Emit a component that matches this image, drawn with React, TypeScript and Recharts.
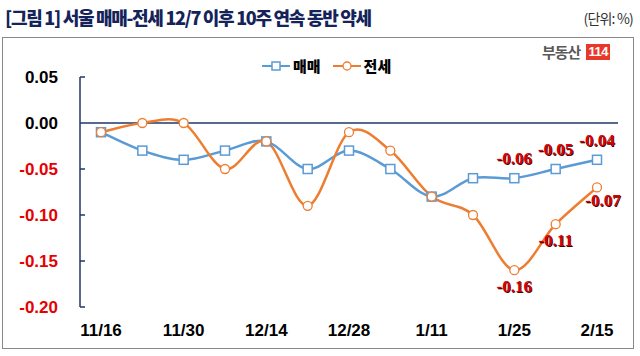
import React from 'react';
import { LineChart, Line, XAxis, YAxis, ReferenceLine, LabelList } from 'recharts';

const categories = ['11/16', '11/23', '11/30', '12/7', '12/14', '12/21', '12/28', '1/4', '1/11', '1/18', '1/25', '2/8', '2/15'];
const maemae = [-0.01, -0.03, -0.04, -0.03, -0.02, -0.05, -0.03, -0.05, -0.08, -0.06, -0.06, -0.05, -0.04];
const jeonse = [-0.01, 0.0, 0.0, -0.05, -0.02, -0.09, -0.01, -0.03, -0.08, -0.1, -0.16, -0.11, -0.07];
const yTicks = [0.05, 0, -0.05, -0.1, -0.15, -0.2];
const xTickLabels = ['11/16', '11/30', '12/14', '12/28', '1/11', '1/25', '2/15'];
const seriesNames = ['매매', '전세'];
const labeledMaemae = [10, 11, 12];
const labeledJeonse = [10, 11, 12];

const data = categories.map((c, i) => ({ date: c, maemae: maemae[i], jeonse: jeonse[i] }));

const BLUE = '#5b9bd5';
const ORANGE = '#ed7d31';
const NAVY = '#1f3864';

// Excel-like smoothing (Catmull-Rom)
const smoothCurve: any = (context: any) => {
  let pts: number[][] = [];
  return {
    areaStart() {},
    areaEnd() {},
    lineStart() { pts = []; },
    point(x: number, y: number) { pts.push([+x, +y]); },
    lineEnd() {
      if (!pts.length) return;
      context.moveTo(pts[0][0], pts[0][1]);
      for (let i = 0; i < pts.length - 1; i++) {
        const p0 = pts[i - 1] || pts[i];
        const p1 = pts[i];
        const p2 = pts[i + 1];
        const p3 = pts[i + 2] || p2;
        const c1x = p1[0] + (p2[0] - p0[0]) / 6;
        const c1y = p1[1] + (p2[1] - p0[1]) / 6;
        const c2x = p2[0] - (p3[0] - p1[0]) / 6;
        const c2y = p2[1] - (p3[1] - p1[1]) / 6;
        context.bezierCurveTo(c1x, c1y, c2x, c2y, p2[0], p2[1]);
      }
    },
  };
};

const SquareDot = (props: any) => {
  const { cx, cy } = props;
  if (cx == null || cy == null) return null;
  return <rect x={cx - 4.5} y={cy - 4.5} width={9} height={9} fill="#fff" stroke={BLUE} strokeWidth={1.5} />;
};
const CircleDot = (props: any) => {
  const { cx, cy } = props;
  if (cx == null || cy == null) return null;
  return <circle cx={cx} cy={cy} r={4.5} fill="#fff" stroke={ORANGE} strokeWidth={1.3} />;
};

const labelText = (x: number, y: number, v: number) => (
  <g>
    <text x={x + 0.8} y={y + 0.8} textAnchor="middle" dy="0.35em" fill="#3a0000" fontFamily="'Liberation Serif', serif" fontWeight="bold" fontSize={17}>{v.toFixed(2)}</text>
    <text x={x} y={y} textAnchor="middle" dy="0.35em" fill="#d80000" fontFamily="'Liberation Serif', serif" fontWeight="bold" fontSize={17}>{v.toFixed(2)}</text>
  </g>
);

const MaemaeLabel = (props: any) => {
  const { x, y, value, index } = props;
  if (!labeledMaemae.includes(index)) return null;
  return labelText(x, y - 20, value);
};
const JeonseLabel = (props: any) => {
  const { x, y, value, index } = props;
  if (!labeledJeonse.includes(index)) return null;
  if (index === categories.length - 1) return labelText(x + 6, y + 13, value);
  return labelText(x, y + 16, value);
};

const YTick = (props: any) => {
  const { x, y, payload } = props;
  const v = payload.value;
  const txt = Math.abs(v) < 1e-9 ? '0.00' : v.toFixed(2);
  return (
    <g>
      <text x={x} y={y} textAnchor="end" dy="0.36em" fill={v < -1e-9 ? '#e60000' : '#000'} fontFamily="'Liberation Sans', Arial, sans-serif" fontWeight="bold" fontSize={17}>{txt}</text>
      {Math.abs(v) > 1e-9 && <line x1={x + 22} x2={x + 27} y1={y} y2={y} stroke={NAVY} strokeWidth={1.5} />}
    </g>
  );
};

export default function App() {
  return (
    <div style={{ position: 'absolute', left: 0, top: 0, width: 640, height: 356, background: '#fff', overflow: 'hidden' }}>
      <div style={{ position: 'absolute', left: 5, top: 4, fontFamily: "'Noto Sans CJK KR', sans-serif", fontWeight: 900, fontSize: 18, letterSpacing: -1.3, color: '#14235a', whiteSpace: 'nowrap', lineHeight: '26px' }}>
        [그림 1] 서울 매매-전세 12/7 이후 10주 연속 동반 약세
      </div>
      <div style={{ position: 'absolute', right: 7, top: 8, fontFamily: "'Noto Sans CJK KR', sans-serif", fontSize: 14, letterSpacing: -0.8, color: '#333', whiteSpace: 'nowrap', lineHeight: '20px' }}>
        (단위: %)
      </div>
      <div style={{ position: 'absolute', left: 2, top: 37, width: 632, height: 312, border: '1px solid #888', boxSizing: 'border-box' }} />
      <div style={{ position: 'absolute', left: 542, top: 42, display: 'flex', alignItems: 'center', whiteSpace: 'nowrap' }}>
        <span style={{ fontFamily: "'Noto Sans CJK KR', sans-serif", fontWeight: 'bold', fontSize: 15, color: '#5a5a5a', letterSpacing: -1, lineHeight: '20px' }}>부동산</span>
        <span style={{ marginLeft: 6, background: '#e8382a', color: '#fff', fontFamily: "'Liberation Sans', Arial, sans-serif", fontWeight: 'bold', fontSize: 13, lineHeight: '16px', padding: '0 2px', letterSpacing: -0.5 }}>114</span>
      </div>
      <div style={{ position: 'absolute', left: 262, top: 56, display: 'flex', alignItems: 'center', whiteSpace: 'nowrap', fontFamily: "'Noto Sans CJK KR', sans-serif", fontWeight: 900, fontSize: 15, color: '#000', lineHeight: '20px' }}>
        <svg width={28} height={14}><line x1={0} x2={28} y1={7} y2={7} stroke={BLUE} strokeWidth={2} /><rect x={10} y={3} width={8} height={8} fill="#fff" stroke={BLUE} strokeWidth={1.5} /></svg>
        <span style={{ marginLeft: 3 }}>{seriesNames[0]}</span>
        <svg width={28} height={14} style={{ marginLeft: 12 }}><line x1={0} x2={28} y1={7} y2={7} stroke={ORANGE} strokeWidth={2} /><circle cx={14} cy={7} r={4} fill="#fff" stroke={ORANGE} strokeWidth={1.3} /></svg>
        <span style={{ marginLeft: 3 }}>{seriesNames[1]}</span>
      </div>
      <div style={{ position: 'absolute', left: 0, top: 0 }}>
        <LineChart width={640} height={356} data={data} margin={{ top: 77, right: 22, bottom: 0, left: 0 }}>
          <XAxis dataKey="date" ticks={xTickLabels} interval={0} padding={{ left: 21, right: 21 }} axisLine={false} tickLine={false} tickSize={0} tickMargin={17} height={49} tick={{ fill: '#000', fontFamily: "'Liberation Sans', Arial, sans-serif", fontWeight: 'bold', fontSize: 17 }} />
          <YAxis type="number" domain={[-0.2, 0.05]} ticks={yTicks} interval={0} width={80} tickSize={0} tickMargin={22} tickLine={false} axisLine={{ stroke: NAVY, strokeWidth: 1.5 }} tick={<YTick />} allowDataOverflow />
          <ReferenceLine y={0} stroke={NAVY} strokeWidth={1.5} />
          <Line dataKey="maemae" name={seriesNames[0]} type={smoothCurve} stroke={BLUE} strokeWidth={2.5} dot={<SquareDot />} activeDot={false} isAnimationActive={false}>
            <LabelList dataKey="maemae" content={<MaemaeLabel />} />
          </Line>
          <Line dataKey="jeonse" name={seriesNames[1]} type={smoothCurve} stroke={ORANGE} strokeWidth={2.5} dot={<CircleDot />} activeDot={false} isAnimationActive={false}>
            <LabelList dataKey="jeonse" content={<JeonseLabel />} />
          </Line>
        </LineChart>
      </div>
    </div>
  );
}
